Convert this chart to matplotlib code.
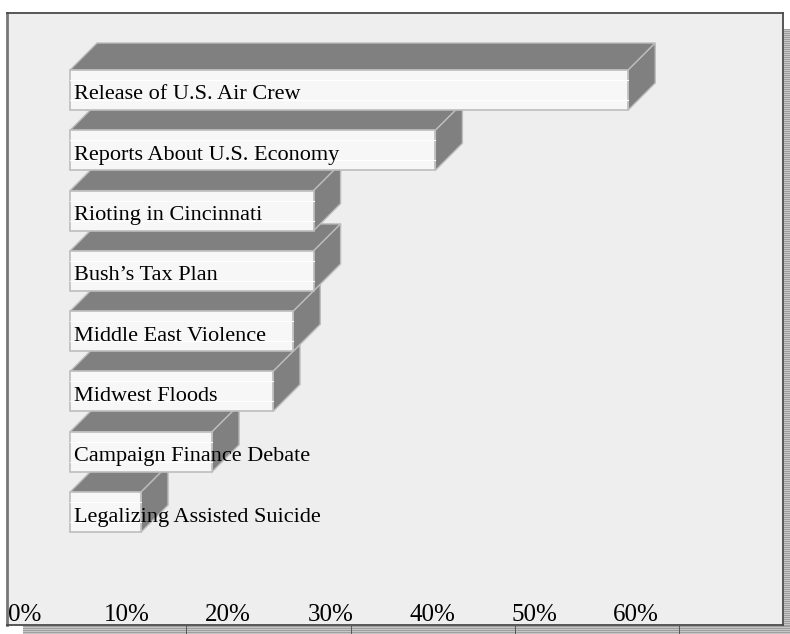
import numpy as np
import matplotlib
matplotlib.use("Agg")
import matplotlib.pyplot as plt
from matplotlib.patches import Rectangle, Polygon

# ---- data ----
categories = ["Release of U.S. Air Crew", "Reports About U.S. Economy",
              "Rioting in Cincinnati", "Bush\u2019s Tax Plan",
              "Middle East Violence", "Midwest Floods",
              "Campaign Finance Debate", "Legalizing Assisted Suicide"]
values = [55, 36, 24, 24, 22, 20, 14, 7]
tick_values = [0, 10, 20, 30, 40, 50, 60]
tick_labels = ["0%", "10%", "20%", "30%", "40%", "50%", "60%"]

W, H = 790, 634
fig = plt.figure(figsize=(W / 100, H / 100), dpi=100)
fig.patch.set_facecolor("white")

# frame geometry in pixels
fl, fr, ft, fb = 7, 783, 13, 625
ax = fig.add_axes([fl / W, 1 - fb / H, (fr - fl) / W, (fb - ft) / H])
ax.set_facecolor("#eeeeee")

px_per_pct = 10.15
x0_px = 70
row_px = 60.3
row0_px = 90
ax.set_xlim((fl - x0_px) / px_per_pct, (fr - x0_px) / px_per_pct)
ax.set_ylim((fb - row0_px) / row_px, (ft - row0_px) / row_px)
ax.set_xticks([])
ax.set_yticks([])
for s in ax.spines.values():
    s.set_color("#4a4a4a")
    s.set_linewidth(1.3)
ax.spines["left"].set_color("#777777")
ax.spines["left"].set_linewidth(2)

bar_h = 40 / row_px
dpx, dpy = 27, 27  # depth in pixels (right, up)

def shift(x, y):
    d = ax.transData.transform((x, y))
    return ax.transData.inverted().transform((d[0] + dpx, d[1] + dpy))

face = "#f7f7f7"
dark = "#808080"
edge = "#bdbdbd"

n = len(categories)
for i in range(n - 1, -1, -1):
    v = values[i]
    y_top = i - bar_h / 2
    y_bot = i + bar_h / 2
    # top face
    p1 = (0, y_top); p2 = (v, y_top)
    p3 = shift(*p2); p4 = shift(*p1)
    ax.add_patch(Polygon([p1, p2, p3, p4], closed=True, facecolor=dark,
                         edgecolor=edge, lw=1, zorder=2))
    # side face
    q1 = (v, y_top); q2 = (v, y_bot)
    q3 = shift(*q2); q4 = shift(*q1)
    ax.add_patch(Polygon([q1, q2, q3, q4], closed=True, facecolor=dark,
                         edgecolor=edge, lw=1, zorder=2))
    # front face
    ax.add_patch(Rectangle((0, y_top), v, bar_h, facecolor=face,
                           edgecolor=edge, lw=1.2, zorder=3))
    # faint stripes on the front face
    for f in (0.25, 0.75):
        ax.plot([0, v], [y_top + f * bar_h] * 2, color="#ffffff", lw=0.8, zorder=3.5)

for i, c in enumerate(categories):
    ax.text(4 / px_per_pct, i + 0.04, c, fontsize=16, family="Liberation Serif",
            va="center_baseline", ha="left", color="black", zorder=10)

# x tick labels (as drawn in the reference, with their own spacing)
label_px0 = 24.5
label_step_px = 101.9
for tv, tl in zip(tick_values, tick_labels):
    xpx = label_px0 + label_step_px * tv / 10
    ax.text((xpx - x0_px) / px_per_pct, (fb - 621) / (fb - ft), tl,
            transform=ax.get_xaxis_transform(), fontsize=18,
            family="Liberation Serif", ha="center", va="baseline", color="black")

# drop shadow (striped)
def stripes(h, w):
    a = np.empty((h, w, 3))
    for r in range(h):
        a[r, :, :] = 0.62 if r % 2 == 0 else 0.78
    return a

right_sh = stripes(fb + 9 - 29, 7)
fig.figimage(right_sh, xo=784, yo=0, origin="upper", zorder=1)
bot_sh = stripes(8, W - 23)
for xv in (186, 351, 515, 679):
    bot_sh[:, xv - 23, :] = 0.35
fig.figimage(bot_sh, xo=23, yo=0, origin="upper", zorder=1)

fig.savefig("out.png", dpi=100)
